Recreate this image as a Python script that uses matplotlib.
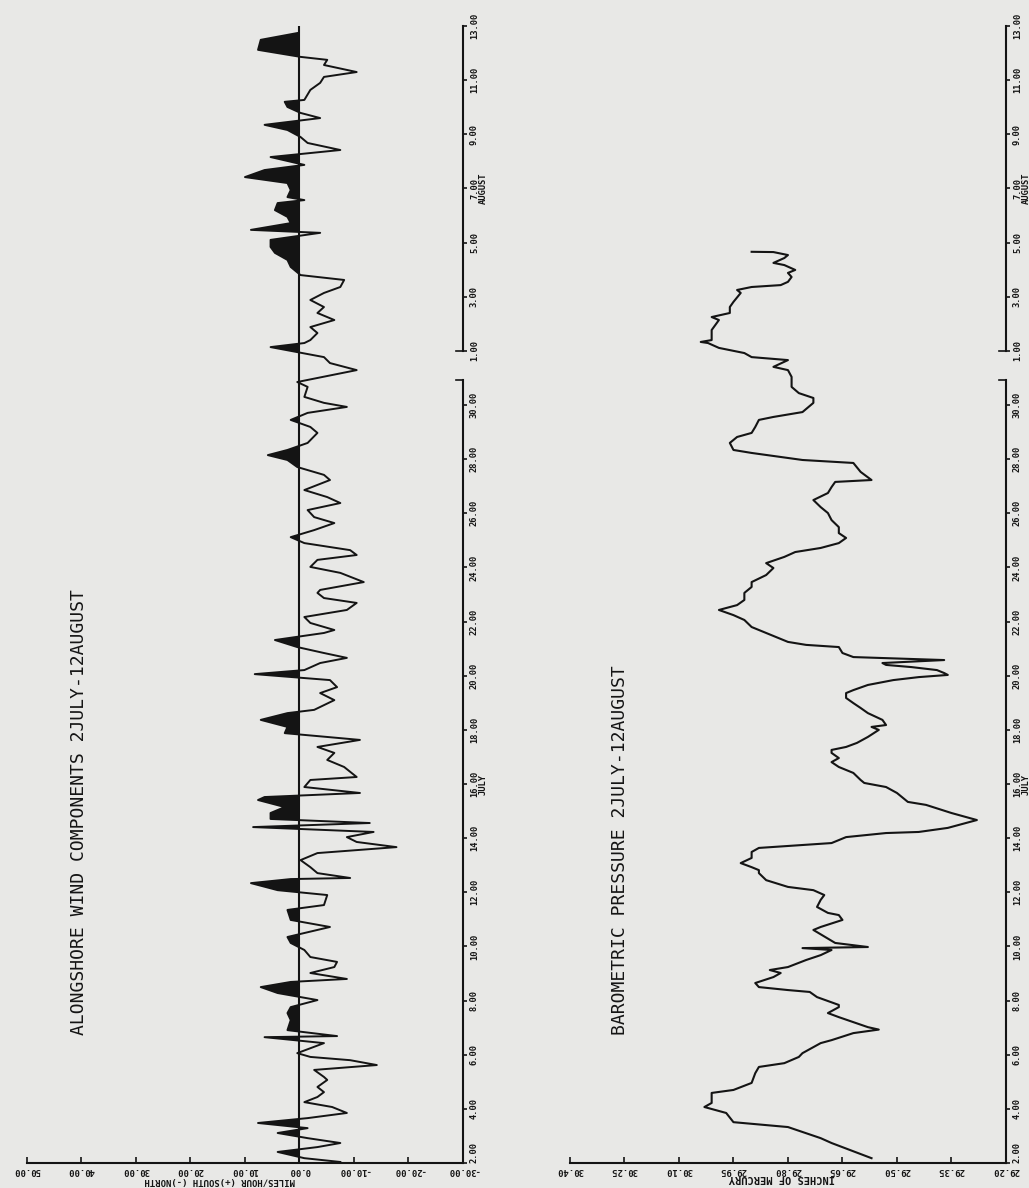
import matplotlib.pyplot as plt
import numpy as np

# time in "day of July" (Aug 1 = 32)
wind_day = [2.04, 2.18, 2.41, 2.59, 2.74, 2.92, 3.11, 3.29, 3.48, 3.66, 3.85, 4.07, 4.25, 4.44,
            4.62, 4.81, 5.07, 5.18, 5.44, 5.62, 5.80, 5.92, 6.06, 6.43, 6.65, 6.69, 6.91, 7.28,
            7.54, 7.76, 8.02, 8.28, 8.50, 8.69, 8.80, 9.02, 9.24, 9.43, 9.61, 9.87, 10.13, 10.35,
            10.72, 10.98, 11.35, 11.53, 11.90, 12.08, 12.34, 12.49, 12.53, 12.71, 12.93, 13.19,
            13.45, 13.67, 13.86, 14.04, 14.23, 14.41, 14.56, 14.71, 14.93, 15.15, 15.41, 15.52,
            15.67, 15.89, 16.15, 16.26, 16.63, 16.89, 17.15, 17.37, 17.63, 17.88, 18.11, 18.37,
            18.62, 18.74, 19.10, 19.36, 19.58, 19.84, 20.06, 20.21, 20.47, 20.66, 20.84, 21.06,
            21.32, 21.58, 21.69, 21.95, 22.17, 22.43, 22.69, 22.87, 23.06, 23.17, 23.46, 23.80,
            24.02, 24.28, 24.46, 24.64, 24.90, 25.12, 25.38, 25.64, 25.86, 26.12, 26.38, 26.60,
            26.86, 27.23, 27.42, 27.71, 27.97, 28.15, 28.34, 28.60, 28.97, 29.19, 29.45, 29.71,
            29.93, 30.08, 30.30, 30.67, 30.85, 31.29, 31.55, 31.77, 32.14, 32.29, 32.40, 32.66,
            32.88, 33.14, 33.40, 33.62, 33.88, 34.14, 34.36, 34.62, 34.80, 35.10, 35.36, 35.62,
            35.84, 36.10, 36.36, 36.47, 36.72, 36.95, 37.20, 37.46, 37.57, 37.68, 37.94, 38.20,
            38.42, 38.68, 38.87, 39.16, 39.42, 39.68, 39.90, 40.16, 40.35, 40.60, 40.79, 41.01,
            41.20, 41.27, 41.64, 41.90, 42.12, 42.30, 42.56, 42.75, 42.86, 43.12, 43.49, 43.74]
wind_mph = [-7.5, -0.9, 4.0, -3.3, -7.5, -1.5, 4.0, -1.5, 7.6, -1.5, -8.7, -6.0, -0.9, -3.3,
            -4.5, -3.3, -5.1, -4.5, -2.7, -14.2, -9.3, -2.0, 0.4, -4.5, 6.4, -6.9, 2.2, 1.6,
            2.2, 1.6, -3.3, 4.0, 7.1, 1.6, -8.7, -2.0, -6.4, -6.9, -2.0, -0.9, 1.6, 2.2,
            -5.6, 1.6, 2.2, -4.5, -5.1, 4.0, 8.9, 1.6, -9.3, -3.3, -2.0, -0.2,
            -3.3, -17.8, -10.5, -8.7, -13.6, 8.5, -12.9, 5.3, 5.3, 2.7, 7.6, 6.4,
            -11.1, -0.9, -2.0, -10.5, -8.2, -5.1, -6.4, -3.3, -11.1, 2.7, 2.2, 7.1,
            2.2, -2.7, -6.4, -3.8, -6.9, -5.6, 8.2, -0.9, -3.8, -8.7, -4.5, 0.4,
            4.5, -4.5, -6.4, -2.0, -0.9, -8.7, -10.5, -4.5, -3.3, -3.8, -11.8, -7.5,
            -2.0, -3.3, -10.5, -9.3, -0.9, 1.6, -2.7, -6.4, -2.7, -1.5, -7.5, -5.1,
            -0.9, -5.6, -4.5, 0.4, 2.2, 5.8, 2.2, -1.5, -3.3, -2.0, 1.6, -1.5,
            -8.7, -4.5, -0.9, -1.5, 0.4, -10.5, -5.6, -4.5, 5.3, -0.9, -2.0, -3.3,
            -2.0, -6.4, -3.3, -4.5, -2.0, -4.5, -7.5, -8.2, -0.2, 1.6, 2.2, 4.5,
            5.3, 5.3, -3.8, 8.9, 1.6, 2.2, 4.5, 4.0, -0.9, 2.2, 1.6, 2.2,
            10.0, 6.4, -0.9, 5.3, -7.5, -1.5, -0.2, 2.2, 6.4, -3.8, -0.2, 2.2,
            2.7, -0.9, -2.0, -3.8, -4.5, -10.5, -4.5, -5.1, -0.2, 7.6, 7.1, 0.4]

pres_day = [2.18, 2.74, 2.92, 3.33, 3.51, 3.85, 4.07, 4.22, 4.33, 4.59, 4.70, 4.96, 5.32, 5.55,
            5.69, 5.92, 6.06, 6.43, 6.54, 6.80, 6.93, 7.02, 7.39, 7.54, 7.76, 7.84, 8.13, 8.32,
            8.39, 8.50, 8.65, 8.87, 9.02, 9.13, 9.24, 9.50, 9.68, 9.87, 9.94, 9.98, 10.13, 10.61,
            10.72, 10.98, 11.16, 11.24, 11.46, 11.72, 11.90, 12.08, 12.20, 12.45, 12.71, 12.82,
            12.93, 13.08, 13.27, 13.49, 13.64, 13.82, 14.04, 14.19, 14.23, 14.38, 14.67, 14.93,
            15.23, 15.34, 15.67, 15.89, 16.04, 16.15, 16.41, 16.63, 16.81, 16.96, 17.15, 17.26,
            17.37, 17.52, 17.74, 18.00, 18.11, 18.18, 18.37, 18.62, 18.81, 18.99, 19.18, 19.36,
            19.47, 19.66, 19.84, 19.95, 20.03, 20.10, 20.21, 20.32, 20.40, 20.47, 20.58, 20.69,
            20.84, 21.06, 21.14, 21.25, 21.58, 21.80, 22.06, 22.24, 22.43, 22.61, 22.80, 23.06,
            23.28, 23.46, 23.72, 23.98, 24.16, 24.39, 24.57, 24.72, 24.90, 25.09, 25.27, 25.49,
            25.75, 26.01, 26.23, 26.49, 26.75, 26.97, 27.16, 27.23, 27.53, 27.86, 27.97, 28.23,
            28.34, 28.60, 28.82, 28.97, 29.19, 29.45, 29.56, 29.74, 30.08, 30.26, 30.44, 30.67,
            31.04, 31.29, 31.41, 31.66, 31.77, 31.92, 32.11, 32.29, 32.33, 32.40, 32.77, 33.14,
            33.25, 33.40, 33.62, 33.81, 34.14, 34.25, 34.36, 34.43, 34.55, 34.73, 34.88, 34.99,
            35.17, 35.25, 35.43, 35.54, 35.65, 35.66]
pres_inhg = [29.57, 29.68, 29.71, 29.80, 29.95, 29.97, 30.03, 30.01, 30.01, 30.01, 29.95, 29.90, 29.89, 29.88,
             29.81, 29.77, 29.76, 29.71, 29.68, 29.62, 29.55, 29.58, 29.66, 29.69, 29.66, 29.66, 29.72, 29.74,
             29.80, 29.88, 29.89, 29.84, 29.82, 29.85, 29.80, 29.75, 29.71, 29.68, 29.76, 29.58, 29.67, 29.73,
             29.71, 29.65, 29.66, 29.69, 29.72, 29.71, 29.70, 29.73, 29.80, 29.86, 29.88, 29.88,
             29.90, 29.93, 29.90, 29.90, 29.88, 29.68, 29.64, 29.53, 29.44, 29.36, 29.28, 29.35,
             29.42, 29.47, 29.50, 29.53, 29.59, 29.60, 29.62, 29.66, 29.68, 29.66, 29.68, 29.68,
             29.64, 29.61, 29.58, 29.55, 29.57, 29.53, 29.54, 29.58, 29.60, 29.62, 29.64, 29.64,
             29.62, 29.58, 29.51, 29.44, 29.36, 29.37, 29.39, 29.46, 29.53, 29.54, 29.37, 29.62,
             29.65, 29.66, 29.75, 29.80, 29.86, 29.90, 29.92, 29.95, 29.99, 29.94, 29.92, 29.92,
             29.90, 29.90, 29.86, 29.84, 29.86, 29.81, 29.78, 29.71, 29.66, 29.64, 29.66, 29.66,
             29.68, 29.69, 29.71, 29.73, 29.69, 29.68, 29.67, 29.57, 29.60, 29.62, 29.76, 29.90,
             29.95, 29.96, 29.94, 29.90, 29.89, 29.88, 29.84, 29.76, 29.73, 29.73, 29.77, 29.79,
             29.79, 29.80, 29.84, 29.80, 29.90, 29.92, 29.99, 30.02, 30.04, 30.01, 30.01, 29.99,
             30.01, 29.96, 29.96, 29.95, 29.93, 29.94, 29.90, 29.82, 29.80, 29.79, 29.80, 29.78,
             29.81, 29.84, 29.81, 29.80, 29.84, 29.90]

jul_days = [2, 4, 6, 8, 10, 12, 14, 16, 18, 20, 22, 24, 26, 28, 30]
aug_days = [1, 3, 5, 7, 9, 11, 13]
wind_ticks = [50, 40, 30, 20, 10, 0, -10, -20, -30]
pres_ticks = [30.40, 30.25, 30.10, 29.95, 29.80, 29.65, 29.50, 29.35, 29.20]

BG = '#e8e8e6'
INK = '#141414'
MONO = 'DejaVu Sans Mono'

fig = plt.figure(figsize=(10.29, 11.88), dpi=100, facecolor=BG)
ax_w = fig.add_axes([0.0262, 0.0210, 0.4237, 0.9571])
ax_p = fig.add_axes([0.5539, 0.0210, 0.4237, 0.9571])


def style_time_axis(ax):
    ax.set_facecolor('none')
    for s in ['left', 'top', 'right']:
        ax.spines[s].set_visible(False)
    ax.spines['bottom'].set_linewidth(1.5)
    ax.spines['bottom'].set_color(INK)
    ax.set_ylim(2, 44)
    pos = jul_days + [d + 31 for d in aug_days]
    labels = []
    for d in jul_days:
        labels.append('16.00\nJULY' if d == 16 else '%d.00' % d)
    for d in aug_days:
        labels.append('7.00\nAUGUST' if d == 7 else '%d.00' % d)
    ax.yaxis.tick_right()
    ax.set_yticks(pos)
    ax.set_yticklabels(labels, rotation=90, va='center', ha='left', linespacing=1.0,
                       multialignment='center', family=MONO, weight='bold')
    ax.tick_params(axis='y', direction='out', length=3, width=1.2, pad=2,
                   labelsize=6.3, colors=INK)
    ax.tick_params(axis='x', direction='in', length=4, width=1.2, pad=2,
                   labelsize=6.5, colors=INK)
    # first date label sits just above the corner, as in the original
    ax.get_yticklabels()[0].set_va('bottom')
    # broken time axis: July and August drawn as separate segments
    tr = ax.get_yaxis_transform()
    ax.plot([1, 1], [2, 30.93], transform=tr, clip_on=False, color=INK, lw=1.5)
    ax.plot([1, 1], [32, 44], transform=tr, clip_on=False, color=INK, lw=1.5)
    ax.plot([1, 0.985], [30.93, 30.93], transform=tr, clip_on=False, color=INK, lw=1.2)
    ax.plot([1, 0.985], [32, 32], transform=tr, clip_on=False, color=INK, lw=1.2)


# wind panel
style_time_axis(ax_w)
w_day = np.array(wind_day)
w_val = np.array(wind_mph)
ax_w.fill_betweenx(w_day, 0, w_val, where=w_val > 0, interpolate=True, color=INK, lw=0)
ax_w.plot(w_val, w_day, color=INK, lw=1.4)
ax_w.axvline(0, color=INK, lw=1.5)
ax_w.set_xlim(50, -30)
ax_w.set_xticks(wind_ticks)
ax_w.set_xticklabels(['%.2f' % v for v in wind_ticks], rotation=180,
                     family=MONO, weight='bold')

# pressure panel
style_time_axis(ax_p)
ax_p.plot(pres_inhg, pres_day, color=INK, lw=1.5)
ax_p.set_xlim(30.40, 29.20)
ax_p.set_xticks(pres_ticks)
ax_p.set_xticklabels(['%.2f' % v for v in pres_ticks], rotation=180,
                     family=MONO, weight='bold')

fig.text(0.0768, 0.1288, 'ALONGSHORE WIND COMPONENTS 2JULY-12AUGUST', rotation=90,
         ha='center', va='bottom', family=MONO, fontsize=13, color=INK)
fig.text(0.6025, 0.1288, 'BAROMETRIC PRESSURE 2JULY-12AUGUST', rotation=90,
         ha='center', va='bottom', family=MONO, fontsize=13, color=INK)
fig.text(0.2138, 0.0059, 'MILES/HOUR (+)SOUTH (-)NORTH', rotation=180,
         ha='center', va='center', family=MONO, weight='bold', fontsize=6.5, color=INK)
fig.text(0.760, 0.0085, 'INCHES OF MERCURY', rotation=180,
         ha='center', va='center', family=MONO, weight='bold', fontsize=7.5, color=INK)

fig.savefig('out.png', dpi=100, facecolor=BG)
